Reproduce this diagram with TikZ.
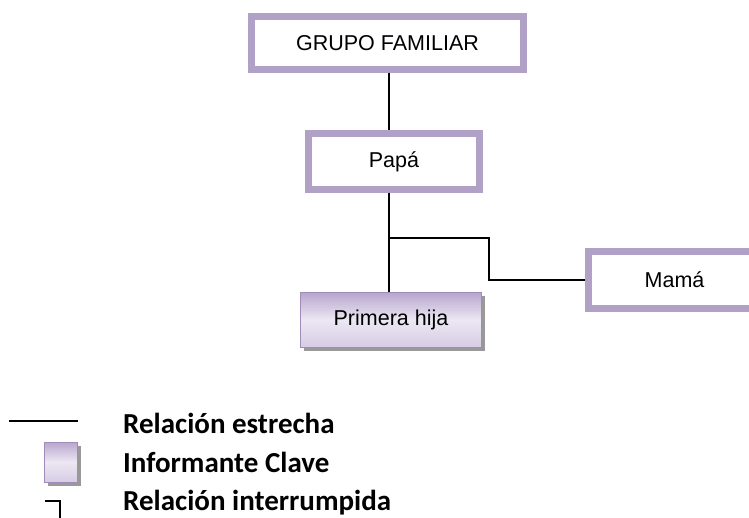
\documentclass[tikz,border=0pt]{standalone}
\usepackage{fontspec}
\setmainfont{Liberation Sans}
\newfontfamily\legendfont{Carlito}
\usetikzlibrary{shadows}
\definecolor{boxpurple}{RGB}{178,161,199}
\definecolor{edgepurple}{RGB}{160,140,185}
\definecolor{shadetop}{RGB}{184,166,205}
\definecolor{shademid}{RGB}{236,231,243}
\definecolor{shadebot}{RGB}{214,204,228}
\begin{document}
\begin{tikzpicture}[x=1pt,y=-1pt,
  famnode/.style={draw=boxpurple, line width=6.5pt, fill=white, inner sep=0pt,
    font=\fontsize{21.5}{25}\selectfont},
  keynode/.style={draw=edgepurple, line width=0.8pt, inner sep=0pt,
    top color=shadetop, bottom color=shadebot, middle color=shademid,
    drop shadow={shadow xshift=3.5pt, shadow yshift=-3.5pt, fill=black!40, opacity=1},
    font=\fontsize{21.5}{25}\selectfont},
  link/.style={draw=black, line width=1.6pt},
  legendtext/.style={anchor=base west, inner sep=0pt,
    font=\legendfont\bfseries\fontsize{29}{33}\selectfont}
]
\clip (0,0) rectangle (749,518);
\fill[white] (0,0) rectangle (749,518);

% nodes
\node[famnode, minimum width=272pt, minimum height=53pt] (grupo) at (387.5,43) {GRUPO FAMILIAR};
\node[famnode, minimum width=171pt, minimum height=56pt] (papa) at (394,161.5) {Papá};
\node[famnode, minimum width=172pt, minimum height=57pt] (mama) at (674.5,280) {Mamá};
\node[keynode, minimum width=181pt, minimum height=55pt] (hija) at (391,320) {Primera hija};

% connectors
\coordinate (spine) at (389,0);
\coordinate (branch) at (389,238);
\coordinate (elbow) at (489,238);
\draw[link] (grupo.south -| spine) -- (papa.north -| spine);
\draw[link] (papa.south -| spine) -- (hija.north -| spine);
\draw[link] (branch) -- (elbow) |- (mama.west);

% legend
\coordinate (lineA) at (9,421);
\coordinate (lineB) at (78,421);
\draw[link, line width=1.4pt] (lineA) -- (lineB);
\node[keynode, minimum width=33pt, minimum height=40pt] (keysq) at (60.5,462) {};
\coordinate (intA) at (45,501);
\coordinate (intB) at (60,501);
\coordinate (intC) at (60,520);
\draw[link, line width=1.4pt] (intA) -- (intB) -- (intC);

\node[legendtext] (t1) at (123,433) {Relación estrecha};
\node[legendtext] (t2) at (123,472) {Informante Clave};
\node[legendtext] (t3) at (123,510) {Relación interrumpida};
\end{tikzpicture}
\end{document}
